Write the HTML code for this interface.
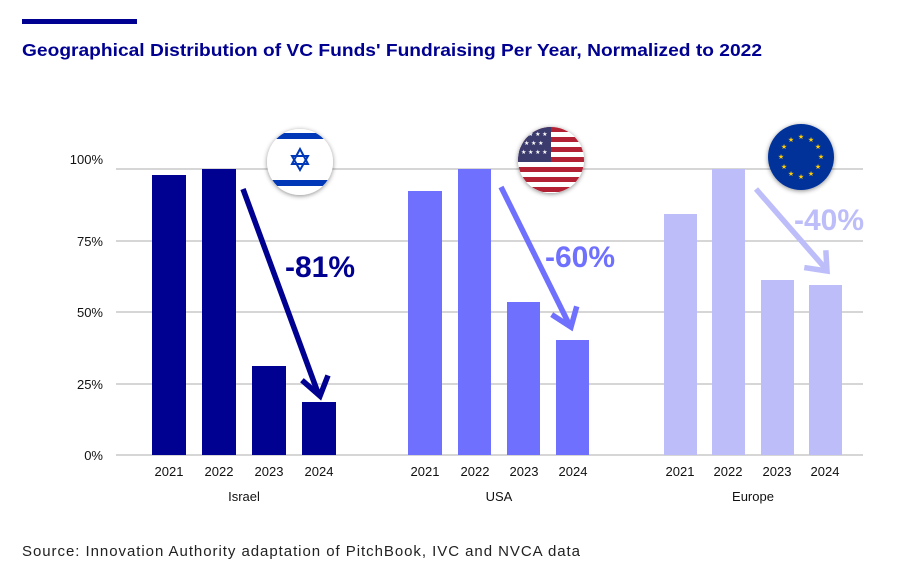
<!DOCTYPE html>
<html><head><meta charset="utf-8"><style>
html,body{margin:0;padding:0;background:#fff;width:902px;height:567px;overflow:hidden}
svg{display:block;font-family:"Liberation Sans",sans-serif}
</style></head><body>
<svg width="902" height="567" viewBox="0 0 902 567" xmlns="http://www.w3.org/2000/svg">
<defs>
<filter id="sh" x="-30%" y="-30%" width="160%" height="160%"><feDropShadow dx="0" dy="1" stdDeviation="2.5" flood-color="#000" flood-opacity="0.45"/></filter>
<clipPath id="c1"><circle cx="300" cy="162" r="33"/></clipPath>
<clipPath id="c2"><circle cx="551" cy="160" r="33"/></clipPath>
</defs>
<rect x="22" y="19" width="115" height="5" fill="#000091"/>
<text x="22" y="56" font-size="17.5" font-weight="bold" fill="#000091" textLength="740" lengthAdjust="spacingAndGlyphs">Geographical Distribution of VC Funds' Fundraising Per Year, Normalized to 2022</text>
<g stroke="#c8c8c8" stroke-width="1.5">
<line x1="116" y1="169" x2="863" y2="169"/><line x1="116" y1="241" x2="863" y2="241"/>
<line x1="116" y1="312" x2="863" y2="312"/><line x1="116" y1="384" x2="863" y2="384"/>
<line x1="116" y1="455" x2="863" y2="455"/>
</g>
<g font-size="13" fill="#111" text-anchor="end">
<text x="103" y="164">100%</text><text x="103" y="246">75%</text><text x="103" y="317">50%</text><text x="103" y="389">25%</text><text x="103" y="460">0%</text>
</g>
<g fill="#000091">
<rect x="152" y="175" width="34" height="280"/><rect x="202" y="169" width="34" height="286"/>
<rect x="252" y="366" width="34" height="89"/><rect x="302" y="402" width="34" height="53"/>
</g>
<g fill="#7070ff">
<rect x="408" y="191" width="34" height="264"/><rect x="458" y="169" width="33" height="286"/>
<rect x="507" y="302" width="33" height="153"/><rect x="556" y="340" width="33" height="115"/>
</g>
<g fill="#bdbdfa">
<rect x="664" y="214" width="33" height="241"/><rect x="712" y="169" width="33" height="286"/>
<rect x="761" y="280" width="33" height="175"/><rect x="809" y="285" width="33" height="170"/>
</g>
<g font-size="13" fill="#111" text-anchor="middle">
<text x="169" y="476">2021</text><text x="219" y="476">2022</text><text x="269" y="476">2023</text><text x="319" y="476">2024</text>
<text x="425" y="476">2021</text><text x="475" y="476">2022</text><text x="524" y="476">2023</text><text x="573" y="476">2024</text>
<text x="680" y="476">2021</text><text x="728" y="476">2022</text><text x="777" y="476">2023</text><text x="825" y="476">2024</text>
<text x="244" y="501">Israel</text><text x="499" y="501">USA</text><text x="753" y="501">Europe</text>
</g>
<text x="22" y="556" font-size="15" fill="#222" textLength="558" lengthAdjust="spacing">Source: Innovation Authority adaptation of PitchBook, IVC and NVCA data</text>
<g fill="none" stroke-width="5.5">
<line x1="243" y1="189" x2="318" y2="393" stroke="#000091"/>
<polyline points="304,382 320,396 327,378" stroke="#000091" stroke-linecap="square"/>
<line x1="501" y1="187" x2="569" y2="324" stroke="#7070ff"/>
<polyline points="554,316 571,327 576,309" stroke="#7070ff" stroke-linecap="square"/>
<line x1="756" y1="189" x2="825" y2="268" stroke="#bdbdfa"/>
<polyline points="807,268 827,271 826,253" stroke="#bdbdfa" stroke-linecap="square"/>
</g>
<text x="285" y="277" font-size="30" font-weight="bold" fill="#000091">-81%</text>
<text x="545" y="267" font-size="30" font-weight="bold" fill="#7070ff">-60%</text>
<text x="794" y="230" font-size="30" font-weight="bold" fill="#bdbdfa">-40%</text>
<circle cx="300" cy="162" r="33" fill="#fff" filter="url(#sh)"/>
<g clip-path="url(#c1)">
<rect x="260" y="133" width="80" height="6" fill="#0038b8"/>
<rect x="260" y="180" width="80" height="6" fill="#0038b8"/>
<polygon points="300,149 308,164 292,164" fill="none" stroke="#0038b8" stroke-width="2"/>
<polygon points="300,170 308,156 292,156" fill="none" stroke="#0038b8" stroke-width="2"/>
</g>
<circle cx="551" cy="160" r="33" fill="#fff" filter="url(#sh)"/>
<g clip-path="url(#c2)">
<rect x="515" y="126" width="75" height="70" fill="#fff"/>
<g fill="#b22234">
<rect x="515" y="127" width="75" height="5"/><rect x="515" y="137" width="75" height="5"/>
<rect x="515" y="147" width="75" height="5"/><rect x="515" y="157" width="75" height="5"/>
<rect x="515" y="167" width="75" height="5"/><rect x="515" y="177" width="75" height="5"/>
<rect x="515" y="187" width="75" height="5"/>
</g>
<rect x="515" y="126" width="36" height="36" fill="#3c3b6e"/>
<g fill="#fff" font-size="6"><text x="521" y="136">★ ★ ★ ★</text><text x="524" y="145">★ ★ ★</text><text x="521" y="154">★ ★ ★ ★</text></g>
</g>
<circle cx="801" cy="157" r="33" fill="#003399" filter="url(#sh)"/>
<g fill="#ffcc00" font-size="7" text-anchor="middle">
<text x="801" y="139">★</text><text x="811" y="142">★</text><text x="818" y="149">★</text><text x="821" y="159">★</text>
<text x="818" y="169">★</text><text x="811" y="176">★</text><text x="801" y="179">★</text><text x="791" y="176">★</text>
<text x="784" y="169">★</text><text x="781" y="159">★</text><text x="784" y="149">★</text><text x="791" y="142">★</text>
</g>
</svg>
</body></html>
